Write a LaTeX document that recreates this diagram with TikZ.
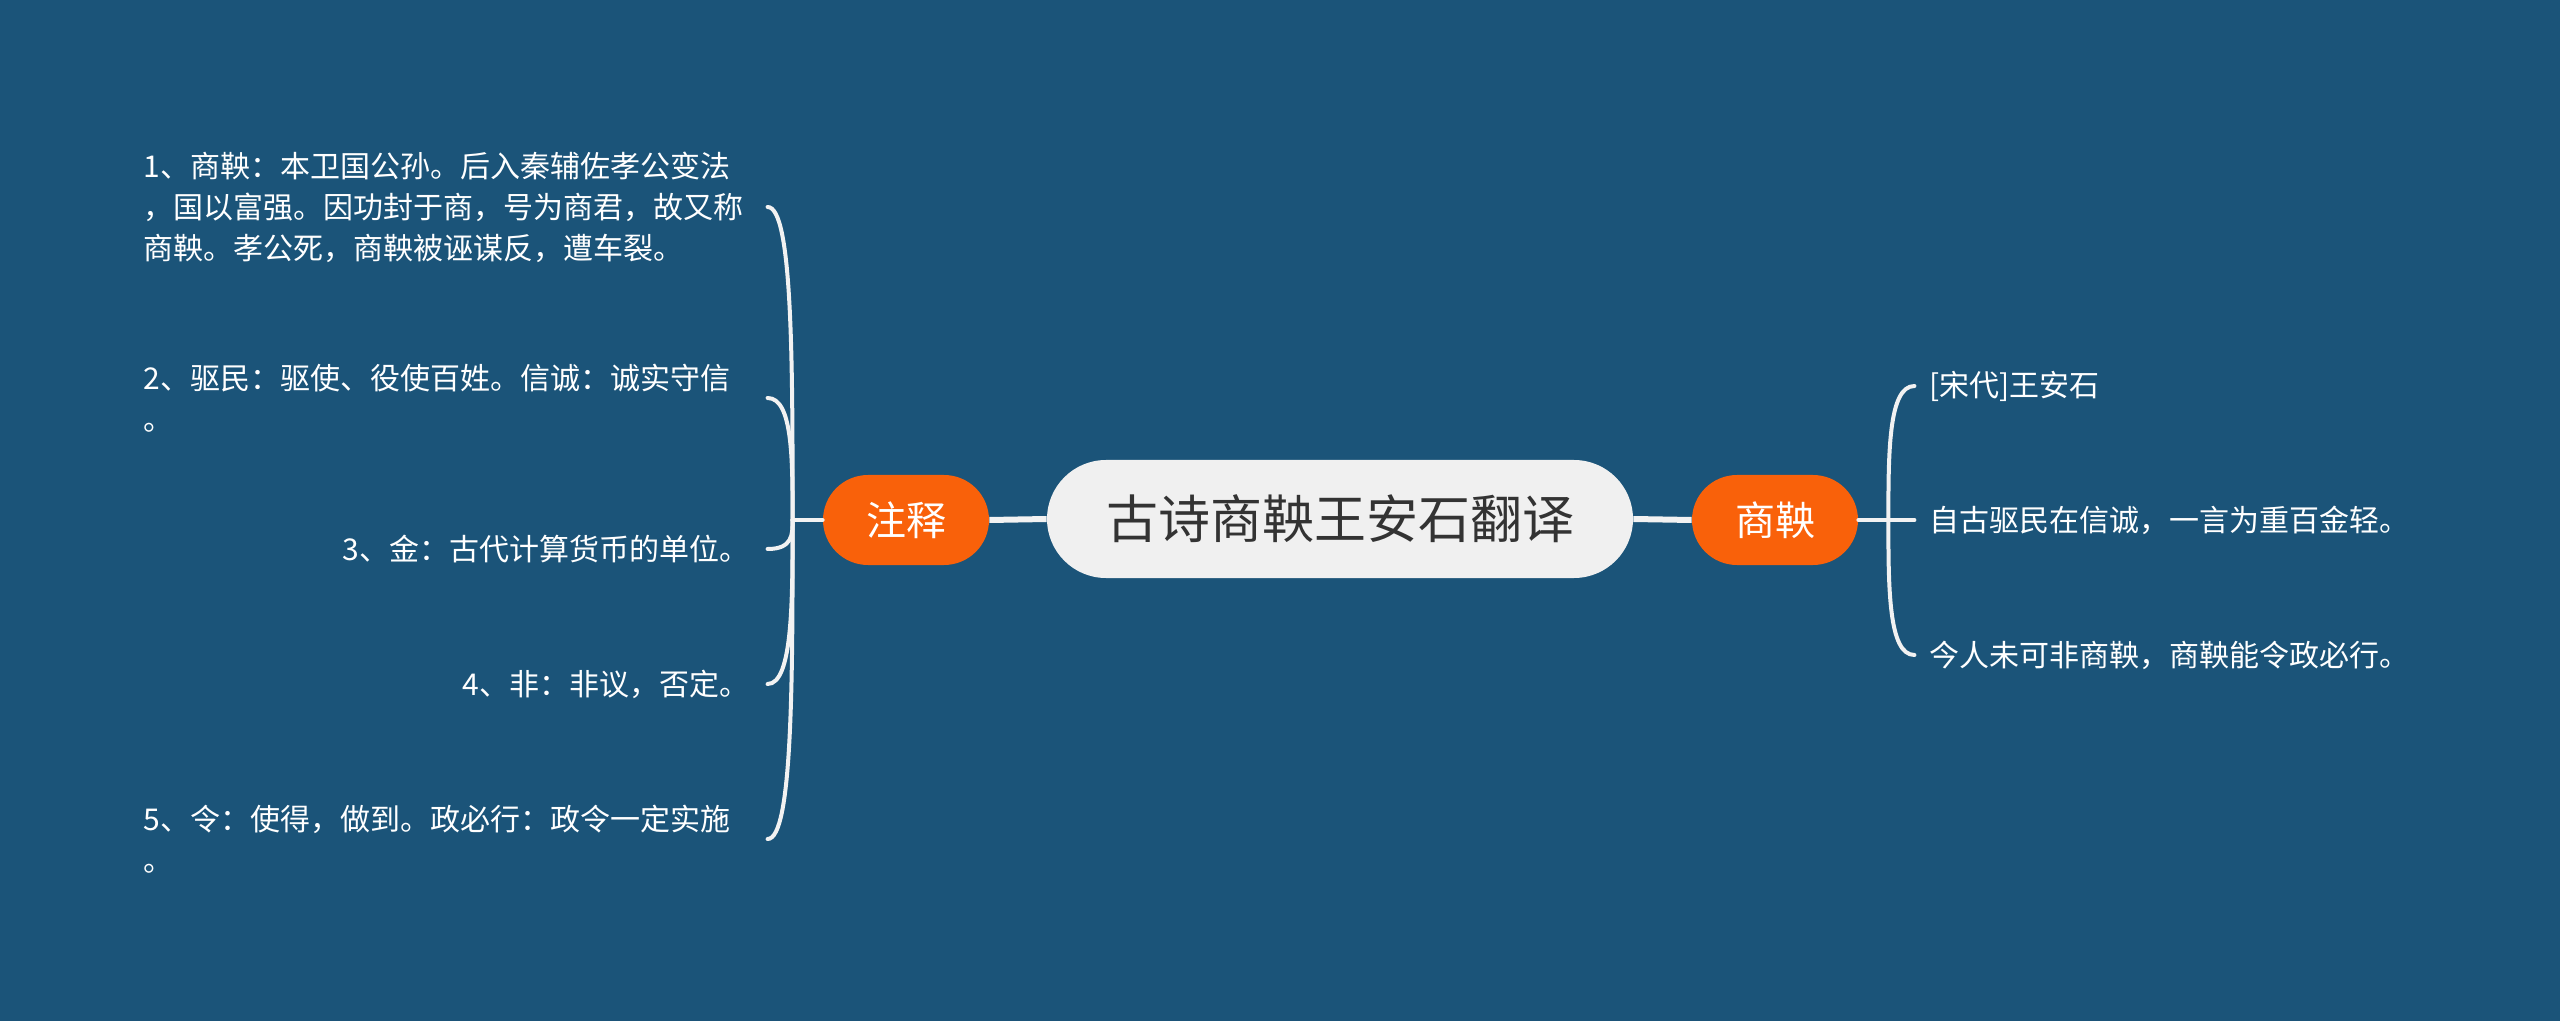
\documentclass[tikz,border=0pt]{standalone}
\usepackage{fontspec}
\setmainfont{Noto Sans CJK SC}
\usetikzlibrary{calc}
\definecolor{bgblue}{RGB}{27,84,121}
\definecolor{orangefill}{RGB}{249,97,10}
\definecolor{rootfill}{RGB}{240,240,240}
\definecolor{roottext}{RGB}{51,51,51}
\definecolor{linecol}{RGB}{242,242,242}
\begin{document}
\begin{tikzpicture}[x=0.5pt,y=-0.5pt,
  rootnode/.style={fill=rootfill, text=roottext, rounded corners=29.5pt, minimum width=293pt, minimum height=59pt, font=\fontsize{26pt}{30pt}\selectfont, inner sep=0pt},
  topicnode/.style={fill=orangefill, text=white, rounded corners=22.5pt, minimum width=83pt, minimum height=45pt, font=\fontsize{20pt}{24pt}\selectfont, inner sep=0pt},
  leafnode/.style={text=white, font=\fontsize{15pt}{20.5pt}\selectfont, inner sep=0pt, align=left},
  mainline/.style={draw=linecol, line width=3pt},
  branchline/.style={draw=linecol, line width=2pt, line cap=round},
]
\fill[bgblue] (0,0) rectangle (2560,1021);
\useasboundingbox (0,0) rectangle (2560,1021);

\node[rootnode] (root) at (1340,519) {古诗商鞅王安石翻译};
\node[topicnode] (zs) at (906,520) {注释};
\node[topicnode] (sy) at (1775,520) {商鞅};
\draw[mainline] (zs.east) -- (root.west);
\draw[mainline] (root.east) -- (sy.west);

% left leaves
\node[leafnode, anchor=west] (l1) at (143,207) {1、商鞅：本卫国公孙。后入秦辅佐孝公变法\\，国以富强。因功封于商，号为商君，故又称\\商鞅。孝公死，商鞅被诬谋反，遭车裂。};
\node[leafnode, anchor=west] (l2) at (143,398) {2、驱民：驱使、役使百姓。信诚：诚实守信\\。};
\node[leafnode, anchor=east] (l3) at (750,549) {3、金：古代计算货币的单位。};
\node[leafnode, anchor=east] (l4) at (750,684) {4、非：非议，否定。};
\node[leafnode, anchor=west] (l5) at (143,839) {5、令：使得，做到。政必行：政令一定实施\\。};

\coordinate (lt) at ($(zs.west)+(-30,0)$);
\draw[branchline] (zs.west) -- (lt);
\foreach \n in {l1,l2,l3,l4,l5}{
  \coordinate (e-\n) at ($(\n.center -| lt)+(-25,0)$);
  \draw[branchline] (lt) .. controls ($(lt)!0.5!(lt |- e-\n)$) and (lt |- e-\n) .. (e-\n);
}

% right leaves
\node[leafnode, anchor=west] (r1) at (1929,386) {[宋代]王安石};
\node[leafnode, anchor=west] (r2) at (1929,520) {自古驱民在信诚，一言为重百金轻。};
\node[leafnode, anchor=west] (r3) at (1929,655) {今人未可非商鞅，商鞅能令政必行。};

\coordinate (rt) at ($(sy.east)+(30,0)$);
\draw[branchline] (sy.east) -- (rt);
\foreach \n in {r1,r2,r3}{
  \coordinate (e-\n) at ($(\n.center -| rt)+(26,0)$);
  \draw[branchline] (rt) .. controls ($(rt)!0.5!(rt |- e-\n)$) and (rt |- e-\n) .. (e-\n);
}
\end{tikzpicture}
\end{document}
